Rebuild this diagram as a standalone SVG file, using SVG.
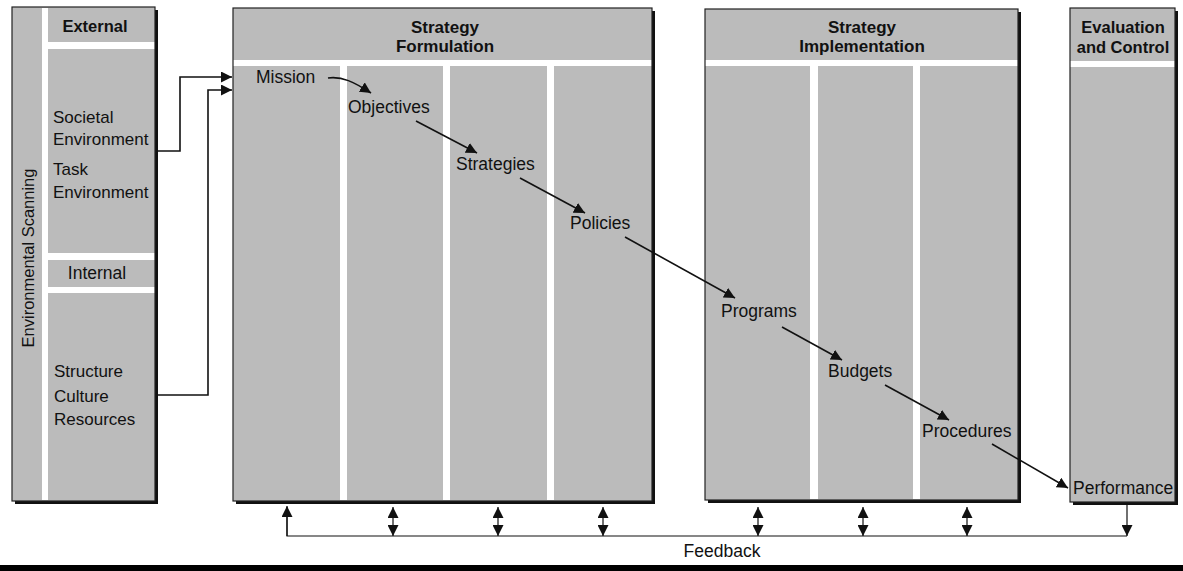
<svg xmlns="http://www.w3.org/2000/svg" width="1183" height="571" viewBox="0 0 1183 571">
<style>
.bg{fill:#ffffff}
.panel{fill:#bbbbbb}
.shadow{fill:#111}
.gap{fill:#ffffff}
.edge{fill:none;stroke:#222;stroke-width:1.2}
text{font-family:"Liberation Sans",Arial,sans-serif;fill:#111}
.t{font-size:17.5px}
.h{font-size:17px;font-weight:bold;text-anchor:middle}
.c{fill:none;stroke:#111;stroke-width:1.6}
.fb{fill:none;stroke:#111;stroke-width:1.2}
</style>
<defs>
<marker id="ah" viewBox="0 0 11 11" refX="11" refY="5.5" markerWidth="11" markerHeight="11" markerUnits="userSpaceOnUse" orient="auto-start-reverse">
<path d="M0,0 L11,5.5 L0,11 z" fill="#111"/>
</marker>
</defs>
<rect class="bg" x="0" y="0" width="1183" height="571"/>

<g id="environmental-scanning">
<rect class="shadow" x="15" y="10" width="143" height="494"/>
<rect class="panel" x="12" y="7" width="143" height="494"/>
<rect class="gap" x="42" y="8" width="6" height="492"/>
<rect class="gap" x="48" y="42" width="107" height="7"/>
<rect class="gap" x="48" y="253" width="107" height="7"/>
<rect class="gap" x="48" y="287" width="107" height="6"/>
<rect class="edge" x="12" y="7" width="143" height="494"/>
<text class="h" x="28" y="258" transform="rotate(-90 28 258)" style="font-weight:normal;font-size:16.5px" dy="6">Environmental Scanning</text>
<text class="h" x="95" y="32" style="font-size:16.5px">External</text>
<text class="t" x="53" y="123" style="font-size:17px">Societal</text>
<text class="t" x="53" y="145" style="font-size:17px">Environment</text>
<text class="t" x="53" y="175" style="font-size:17px">Task</text>
<text class="t" x="53" y="198" style="font-size:17px">Environment</text>
<text class="t" x="97" y="279" text-anchor="middle">Internal</text>
<text class="t" x="54" y="377" style="font-size:17px">Structure</text>
<text class="t" x="54" y="402" style="font-size:17px">Culture</text>
<text class="t" x="54" y="425" style="font-size:17px">Resources</text>
</g>

<g id="strategy-formulation">
<rect class="shadow" x="236" y="11" width="419" height="493"/>
<rect class="panel" x="233" y="8" width="419" height="493"/>
<rect class="gap" x="233" y="60" width="419" height="6"/>
<rect class="gap" x="340" y="66" width="7" height="434"/>
<rect class="gap" x="443" y="66" width="7" height="434"/>
<rect class="gap" x="547" y="66" width="7" height="434"/>
<rect class="edge" x="233" y="8" width="419" height="493"/>
<text class="h" x="445" y="33">Strategy</text>
<text class="h" x="445" y="52">Formulation</text>
<text class="t" x="256" y="83">Mission</text>
<text class="t" x="348" y="113">Objectives</text>
<text class="t" x="456" y="170">Strategies</text>
<text class="t" x="570" y="229">Policies</text>
</g>

<g id="strategy-implementation">
<rect class="shadow" x="708" y="12" width="313" height="491"/>
<rect class="panel" x="705" y="9" width="313" height="491"/>
<rect class="gap" x="705" y="60" width="313" height="6"/>
<rect class="gap" x="810" y="66" width="8" height="433"/>
<rect class="gap" x="913" y="66" width="7" height="433"/>
<rect class="edge" x="705" y="9" width="313" height="491"/>
<text class="h" x="862" y="33">Strategy</text>
<text class="h" x="862" y="52">Implementation</text>
<text class="t" x="721" y="317">Programs</text>
<text class="t" x="828" y="377">Budgets</text>
<text class="t" x="922" y="437">Procedures</text>
</g>

<g id="evaluation-control">
<rect class="shadow" x="1073" y="11" width="105" height="494"/>
<rect class="panel" x="1070" y="8" width="105" height="494"/>
<rect class="gap" x="1070" y="61" width="105" height="6"/>
<rect class="edge" x="1070" y="8" width="105" height="494"/>
<text class="h" x="1123" y="33" style="font-size:16.5px">Evaluation</text>
<text class="h" x="1123" y="53" style="font-size:16.5px">and Control</text>
<text class="t" x="1073" y="494">Performance</text>
</g>

<g id="connectors">
<polyline class="c" points="157,151 180,151 180,77 232,77" marker-end="url(#ah)"/>
<polyline class="c" points="157,395 208,395 208,90 232,90" marker-end="url(#ah)"/>
<path class="c" d="M328,78 C342,76 354,82 371,93" marker-end="url(#ah)"/>
<line class="c" x1="416" y1="121" x2="477" y2="153" marker-end="url(#ah)"/>
<line class="c" x1="520" y1="178" x2="585" y2="213" marker-end="url(#ah)"/>
<line class="c" x1="625" y1="237" x2="735" y2="298" marker-end="url(#ah)"/>
<line class="c" x1="782" y1="327" x2="842" y2="360" marker-end="url(#ah)"/>
<line class="c" x1="885" y1="385" x2="949" y2="420" marker-end="url(#ah)"/>
<line class="c" x1="992" y1="444" x2="1068" y2="488" marker-end="url(#ah)"/>
<polyline class="fb" points="287,507 287,536 1127,536"/>
<line class="fb" x1="287" y1="536" x2="287" y2="506" marker-end="url(#ah)"/>
<line class="fb" x1="1127" y1="505" x2="1127" y2="536" marker-end="url(#ah)"/>
<line class="fb" x1="393" y1="507" x2="393" y2="536" marker-start="url(#ah)" marker-end="url(#ah)"/>
<line class="fb" x1="498" y1="507" x2="498" y2="536" marker-start="url(#ah)" marker-end="url(#ah)"/>
<line class="fb" x1="603" y1="507" x2="603" y2="536" marker-start="url(#ah)" marker-end="url(#ah)"/>
<line class="fb" x1="758" y1="507" x2="758" y2="536" marker-start="url(#ah)" marker-end="url(#ah)"/>
<line class="fb" x1="863" y1="507" x2="863" y2="536" marker-start="url(#ah)" marker-end="url(#ah)"/>
<line class="fb" x1="967" y1="507" x2="967" y2="536" marker-start="url(#ah)" marker-end="url(#ah)"/>
</g>
<text class="t" x="722" y="557" text-anchor="middle">Feedback</text>
<rect x="0" y="565" width="1183" height="6" fill="#000"/>
</svg>
